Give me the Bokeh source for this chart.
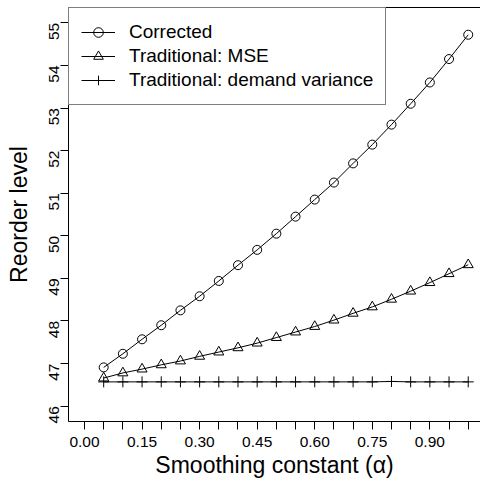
import math
from bokeh.plotting import figure
from bokeh.models import Range1d, FixedTicker, Legend, LegendItem, LinearAxis
from bokeh.embed import file_html
from bokeh.resources import INLINE

# ---- data ----
alpha = [0.05, 0.10, 0.15, 0.20, 0.25, 0.30, 0.35, 0.40, 0.45, 0.50,
         0.55, 0.60, 0.65, 0.70, 0.75, 0.80, 0.85, 0.90, 0.95, 1.00]
corrected = [46.91, 47.23, 47.57, 47.90, 48.25, 48.58, 48.94, 49.31, 49.67, 50.05,
             50.45, 50.85, 51.25, 51.70, 52.14, 52.61, 53.10, 53.60, 54.15, 54.72]
trad_mse = [46.66, 46.78, 46.87, 46.97, 47.06, 47.17, 47.27, 47.37, 47.48, 47.61,
            47.74, 47.87, 48.02, 48.18, 48.33, 48.51, 48.70, 48.90, 49.11, 49.32]
trad_demand_var = [46.57, 46.57, 46.57, 46.57, 46.57, 46.57, 46.57, 46.57, 46.57, 46.57,
                   46.57, 46.57, 46.57, 46.57, 46.57, 46.58, 46.57, 46.57, 46.57, 46.57]

series_labels = ["Corrected", "Traditional: MSE", "Traditional: demand variance"]

x_ticks = [0.00, 0.05, 0.10, 0.15, 0.20, 0.25, 0.30, 0.35, 0.40, 0.45, 0.50,
           0.55, 0.60, 0.65, 0.70, 0.75, 0.80, 0.85, 0.90, 0.95, 1.00]
x_tick_labels = ["0.00", "", "", "0.15", "", "", "0.30", "", "", "0.45", "",
                 "", "0.60", "", "", "0.75", "", "", "0.90", "", ""]
y_ticks = [46, 47, 48, 49, 50, 51, 52, 53, 54, 55]

x_title = "Smoothing constant (\u03b1)"
y_title = "Reorder level"

FONT = "Liberation Sans"

p = figure(width=480, height=480, output_backend="svg", toolbar_location=None,
           x_range=Range1d(-0.0417, 1.032), y_range=Range1d(45.64, 55.36),
           min_border_left=68, min_border_right=0, min_border_top=7, min_border_bottom=57,
           background_fill_color="white", border_fill_color="white")

p.outline_line_color = None
p.xgrid.visible = False
p.ygrid.visible = False

# axes
for ax in (p.xaxis[0], p.yaxis[0]):
    ax.axis_line_color = "black"
    ax.axis_line_width = 1
    ax.major_tick_line_color = "black"
    ax.major_tick_in = 0
    ax.major_tick_out = 8
    ax.minor_tick_line_color = None
    ax.major_label_text_font = FONT
    ax.major_label_text_font_size = "15.5px"
    ax.major_label_text_color = "black"
    ax.axis_label_text_font = FONT
    ax.axis_label_text_font_size = "23px"
    ax.axis_label_text_font_style = "normal"
    ax.axis_label_text_color = "black"

p.xaxis.ticker = FixedTicker(ticks=x_ticks)
p.xaxis.major_label_overrides = dict(zip(x_ticks, x_tick_labels))
p.xaxis.axis_label = x_title
p.xaxis.major_label_standoff = 7
p.xaxis.axis_label_standoff = 2

p.yaxis.ticker = FixedTicker(ticks=y_ticks)
p.yaxis.major_label_orientation = math.pi / 2
p.yaxis.axis_label = y_title
p.yaxis.major_label_standoff = 6
p.yaxis.axis_label_standoff = 10

# top border of the box (no ticks, no labels)
top = LinearAxis(ticker=FixedTicker(ticks=[]), axis_line_color="black", axis_line_width=1,
                 major_tick_out=0, major_tick_in=0, major_label_standoff=0,
                 major_label_text_font_size="0px", minor_tick_line_color=None)
p.add_layout(top, "above")

# series
l1 = p.line(alpha, corrected, line_color="black", line_width=1)
s1 = p.scatter(alpha, corrected, marker="circle", size=9, line_color="black",
               fill_color=None, line_width=1)
l2 = p.line(alpha, trad_mse, line_color="black", line_width=1)
s2 = p.scatter(alpha, trad_mse, marker="triangle", size=10, line_color="black",
               fill_color=None, line_width=1)
l3 = p.line(alpha, trad_demand_var, line_color="black", line_width=1)
s3 = p.scatter(alpha, trad_demand_var, marker="cross", size=11, line_color="black",
               line_width=1)

legend = Legend(items=[
    LegendItem(label=series_labels[0], renderers=[l1, s1]),
    LegendItem(label=series_labels[1], renderers=[l2, s2]),
    LegendItem(label=series_labels[2], renderers=[l3, s3]),
], location="top_left", margin=0, padding=12, spacing=0,
   glyph_width=34, glyph_height=24, label_height=24, label_standoff=14,
   border_line_color="black", border_line_width=1,
   background_fill_color="white", background_fill_alpha=1,
   label_text_font=FONT, label_text_font_size="19px", label_text_color="black")
p.add_layout(legend)

open("out.html", "w").write(file_html(p, INLINE))
